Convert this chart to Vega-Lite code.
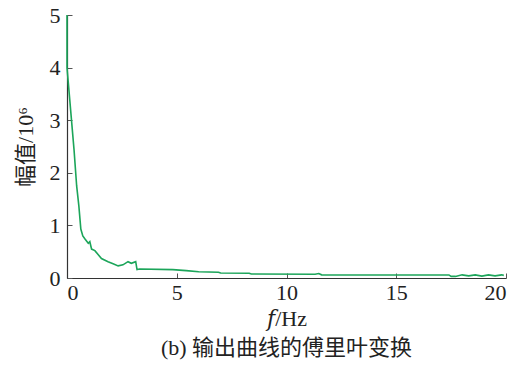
{
  "$schema": "https://vega.github.io/schema/vega-lite/v6.json",
  "width": 439,
  "height": 263,
  "autosize": {"type": "none"},
  "padding": {"left": 67, "top": 15, "right": 23, "bottom": 92},
  "background": "white",
  "config": {
    "view": {"stroke": null},
    "font": "Liberation Serif",
    "axis": {
      "grid": false,
      "domainColor": "#333333",
      "domainWidth": 1.2,
      "tickColor": "#555555",
      "tickSize": -5,
      "labelFont": "Liberation Serif",
      "labelFontSize": 22,
      "labelColor": "#222222",
      "titleFont": "Liberation Serif, DejaVu Serif, Noto Sans CJK SC",
      "titleFontSize": 22,
      "titleFontWeight": "normal",
      "titleColor": "#222222"
    }
  },
  "title": {
    "text": "(b) 输出曲线的傅里叶变换",
    "orient": "bottom",
    "font": "Liberation Serif, Noto Sans CJK SC",
    "fontSize": 22,
    "fontWeight": "normal",
    "color": "#222222",
    "offset": 9
  },
  "data": {
    "values": [
      {"i": 0, "f": 0, "a": 5.0},
      {"i": 1, "f": 0, "a": 4.0},
      {"i": 2, "f": 0.32, "a": 2.44},
      {"i": 3, "f": 0.44, "a": 1.75},
      {"i": 4, "f": 0.54, "a": 1.37},
      {"i": 5, "f": 0.63, "a": 0.93},
      {"i": 6, "f": 0.72, "a": 0.8},
      {"i": 7, "f": 0.82, "a": 0.74},
      {"i": 8, "f": 0.97, "a": 0.66},
      {"i": 9, "f": 1.04, "a": 0.69},
      {"i": 10, "f": 1.12, "a": 0.55},
      {"i": 11, "f": 1.27, "a": 0.52},
      {"i": 12, "f": 1.57, "a": 0.37},
      {"i": 13, "f": 1.87, "a": 0.31},
      {"i": 14, "f": 2.1, "a": 0.27},
      {"i": 15, "f": 2.33, "a": 0.23},
      {"i": 16, "f": 2.55, "a": 0.25},
      {"i": 17, "f": 2.78, "a": 0.31},
      {"i": 18, "f": 2.93, "a": 0.28},
      {"i": 19, "f": 3.13, "a": 0.31},
      {"i": 20, "f": 3.19, "a": 0.16},
      {"i": 21, "f": 3.31, "a": 0.17},
      {"i": 22, "f": 4.82, "a": 0.16},
      {"i": 23, "f": 5.43, "a": 0.14},
      {"i": 24, "f": 6.0, "a": 0.12},
      {"i": 25, "f": 6.9, "a": 0.11},
      {"i": 26, "f": 7.0, "a": 0.095},
      {"i": 27, "f": 8.3, "a": 0.09},
      {"i": 28, "f": 8.4, "a": 0.075},
      {"i": 29, "f": 11.3, "a": 0.07},
      {"i": 30, "f": 11.47, "a": 0.085},
      {"i": 31, "f": 11.6, "a": 0.06},
      {"i": 32, "f": 17.4, "a": 0.058},
      {"i": 33, "f": 17.5, "a": 0.03},
      {"i": 34, "f": 17.7, "a": 0.03},
      {"i": 35, "f": 18.0, "a": 0.06},
      {"i": 36, "f": 18.3, "a": 0.04},
      {"i": 37, "f": 18.6, "a": 0.06},
      {"i": 38, "f": 18.9, "a": 0.035},
      {"i": 39, "f": 19.2, "a": 0.06},
      {"i": 40, "f": 19.5, "a": 0.04},
      {"i": 41, "f": 19.8, "a": 0.06},
      {"i": 42, "f": 19.9, "a": 0.05}
    ]
  },
  "mark": {"type": "line", "color": "#1ca55a", "strokeWidth": 1.6},
  "encoding": {
    "x": {
      "field": "f",
      "type": "quantitative",
      "scale": {"domain": [0, 20], "nice": false},
      "axis": {"values": [0, 5, 10, 15, 20], "title": "𝑓/Hz", "labelPadding": 9, "titlePadding": 5}
    },
    "y": {
      "field": "a",
      "type": "quantitative",
      "scale": {"domain": [0, 5], "nice": false},
      "axis": {"values": [0, 1, 2, 3, 4, 5], "title": "幅值/10⁶", "labelPadding": 12, "titlePadding": 12}
    },
    "order": {"field": "i", "type": "quantitative"}
  }
}
